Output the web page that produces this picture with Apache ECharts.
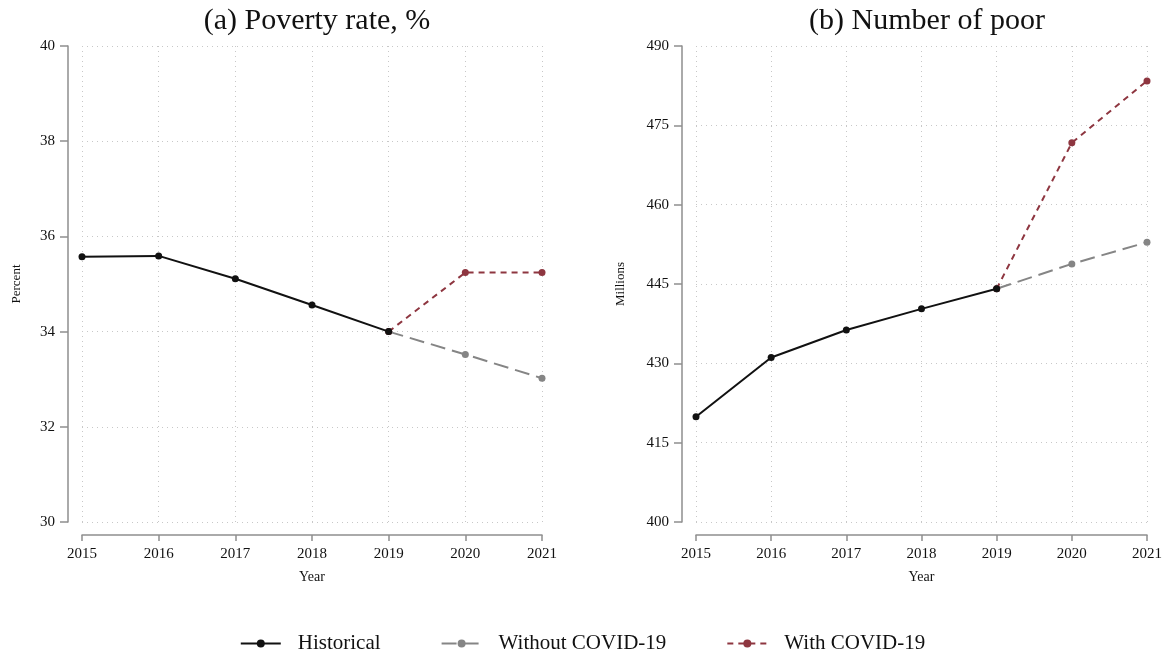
<!DOCTYPE html>
<html>
<head>
<meta charset="utf-8">
<script src="https://cdn.jsdelivr.net/npm/echarts@6/dist/echarts.min.js"></script>
<style>
  html, body { margin: 0; padding: 0; background: #fff; }
  #chart { width: 1165px; height: 654px; }
</style>
</head>
<body>
<div id="chart"></div>
<script>
// Years on the horizontal axis
const years = ['2015', '2016', '2017', '2018', '2019', '2020', '2021'];

// (a) Poverty rate, %
const rateHistorical = [35.57, 35.59, 35.11, 34.56, 34.00, null, null];
const rateWithout    = [null, null, null, null, 34.00, 33.52, 33.02];
const rateWith       = [null, null, null, null, 34.00, 35.24, 35.24];

// (b) Number of poor, millions
const poorHistorical = [419.9, 431.1, 436.3, 440.3, 444.1, null, null];
const poorWithout    = [null, null, null, null, 444.1, 448.8, 452.9];
const poorWith       = [null, null, null, null, 444.1, 471.7, 483.4];

const seriesNames = ['Historical', 'Without COVID-19', 'With COVID-19'];

const FONT = '"Liberation Serif", "DejaVu Serif", serif';
const AXIS_GREY = '#8e8e8e';
const GRID_GREY = '#c8c8c8';
const BLACK = '#111111';
const GREY = '#858585';
const RED = '#8e3640';

const chart = echarts.init(document.getElementById('chart'), null, { renderer: 'canvas' });

function xAxisFor(gridIndex) {
  return {
    type: 'category',
    gridIndex: gridIndex,
    data: years,
    boundaryGap: false,
    offset: 13,
    name: 'Year',
    nameLocation: 'middle',
    nameGap: 35,
    nameTextStyle: { fontFamily: FONT, fontSize: 14, color: '#111' },
    axisLine: { show: true, lineStyle: { color: AXIS_GREY, width: 1.5 } },
    axisTick: { show: true, alignWithLabel: true, length: 6, lineStyle: { color: AXIS_GREY, width: 1.5 } },
    axisLabel: { fontFamily: FONT, fontSize: 15, color: '#111', margin: 12 },
    splitLine: { show: true, interval: 0, lineStyle: { color: GRID_GREY, type: [1, 4], width: 1 } }
  };
}

function yAxisFor(gridIndex, min, max, interval, name, nameGap) {
  return {
    type: 'value',
    gridIndex: gridIndex,
    min: min,
    max: max,
    interval: interval,
    offset: 14,
    name: name,
    nameLocation: 'middle',
    nameGap: nameGap,
    nameTextStyle: { fontFamily: FONT, fontSize: 13, color: '#111' },
    axisLine: { show: true, lineStyle: { color: AXIS_GREY, width: 1.5 } },
    axisTick: { show: true, length: 8, lineStyle: { color: AXIS_GREY, width: 1.5 } },
    axisLabel: { fontFamily: FONT, fontSize: 15, color: '#111', margin: 13 },
    splitLine: { show: true, lineStyle: { color: GRID_GREY, type: [1, 4], width: 1 } }
  };
}

function panelSeries(idx, hist, without, withC) {
  return [
    {
      name: seriesNames[1], type: 'line', xAxisIndex: idx, yAxisIndex: idx,
      data: without, symbol: 'circle', symbolSize: 7, z: 2,
      itemStyle: { color: GREY },
      lineStyle: { color: GREY, width: 2, type: [15, 7] }
    },
    {
      name: seriesNames[2], type: 'line', xAxisIndex: idx, yAxisIndex: idx,
      data: withC, symbol: 'circle', symbolSize: 7, z: 3,
      itemStyle: { color: RED },
      lineStyle: { color: RED, width: 2, type: [6, 5] }
    },
    {
      name: seriesNames[0], type: 'line', xAxisIndex: idx, yAxisIndex: idx,
      data: hist, symbol: 'circle', symbolSize: 7, z: 4,
      itemStyle: { color: BLACK },
      lineStyle: { color: BLACK, width: 2 }
    }
  ];
}

const option = {
  backgroundColor: '#ffffff',
  animation: false,
  textStyle: { fontFamily: FONT },
  title: [
    { text: '(a) Poverty rate, %', left: 312, top: 1, textAlign: 'center',
      textStyle: { fontFamily: FONT, fontSize: 30, fontWeight: 'normal', color: '#111' } },
    { text: '(b) Number of poor', left: 922, top: 1, textAlign: 'center',
      textStyle: { fontFamily: FONT, fontSize: 30, fontWeight: 'normal', color: '#111' } }
  ],
  legend: {
    data: seriesNames,
    bottom: 0,
    left: 'center',
    padding: 0,
    itemWidth: 40,
    itemHeight: 10,
    itemGap: 60,
    textStyle: { fontFamily: FONT, fontSize: 21, color: '#111', padding: [0, 0, 0, 12] }
  },
  grid: [
    { left: 82, right: 623, top: 46, bottom: 132 },
    { left: 696, right: 18, top: 46, bottom: 132 }
  ],
  xAxis: [xAxisFor(0), xAxisFor(1)],
  yAxis: [
    yAxisFor(0, 30, 40, 2, 'Percent', 45),
    yAxisFor(1, 400, 490, 15, 'Millions', 55)
  ],
  series: [
    ...panelSeries(0, rateHistorical, rateWithout, rateWith),
    ...panelSeries(1, poorHistorical, poorWithout, poorWith)
  ]
};

chart.setOption(option);
</script>
</body>
</html>
